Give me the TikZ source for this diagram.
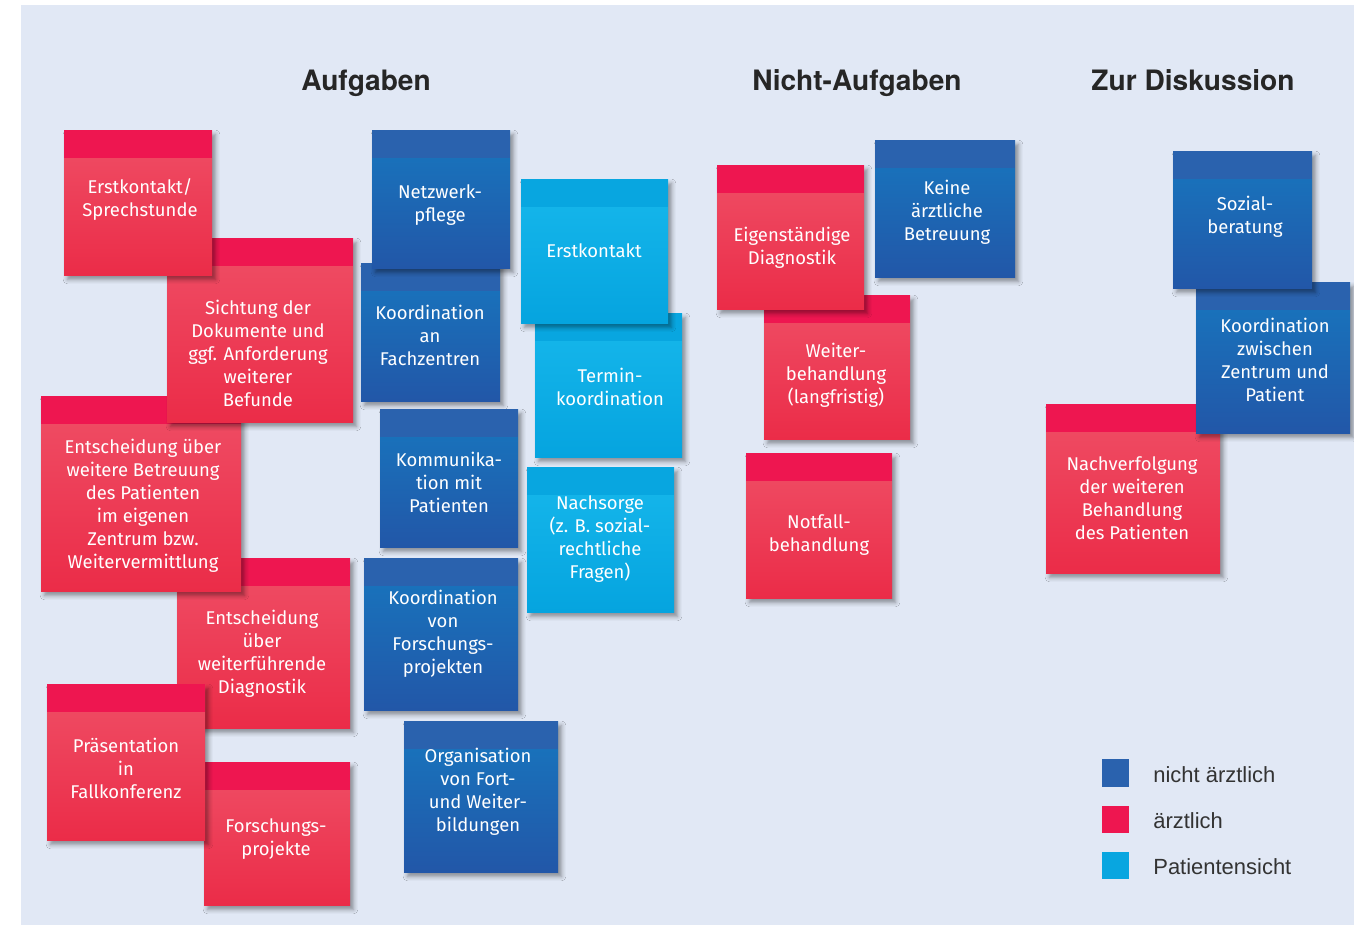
\documentclass[tikz,border=0pt]{standalone}
\usepackage{fontspec}
\usetikzlibrary{fit,shadows.blur}

\newfontfamily\notefont{Fira Sans}
\newfontfamily\headfont{TeX Gyre Heros}
\newfontfamily\legendfont{Liberation Sans}

\definecolor{bgpaper}{HTML}{E1E8F5}
\definecolor{redband}{HTML}{EE1650}
\definecolor{redtop}{HTML}{EF4F66}
\definecolor{redbot}{HTML}{EB2C48}
\definecolor{blueband}{HTML}{2A62AE}
\definecolor{bluetop}{HTML}{1777BF}
\definecolor{bluebot}{HTML}{2257A8}
\definecolor{cyanband}{HTML}{08A6E0}
\definecolor{cyantop}{HTML}{17B8EC}
\definecolor{cyanbot}{HTML}{05A4DF}

\tikzset{
  note/.style={inner sep=0pt, blur shadow={shadow xshift=2pt, shadow yshift=-2.5pt,
      shadow blur radius=2.5pt, shadow opacity=40}},
  rednote/.style={note, top color=redtop, bottom color=redbot,
    path picture={\fill[redband] (path picture bounding box.north west) rectangle
      ([yshift=-0.56cm]path picture bounding box.north east);}},
  bluenote/.style={note, top color=bluetop, bottom color=bluebot,
    path picture={\fill[blueband] (path picture bounding box.north west) rectangle
      ([yshift=-0.56cm]path picture bounding box.north east);}},
  cyannote/.style={note, top color=cyantop, bottom color=cyanbot,
    path picture={\fill[cyanband] (path picture bounding box.north west) rectangle
      ([yshift=-0.56cm]path picture bounding box.north east);}},
  notetext/.style={text=white, align=center, inner sep=0pt,
    font=\notefont\fontsize{10.5}{13.1}\selectfont},
  headline/.style={anchor=base, text=black!85, font=\headfont\bfseries\fontsize{16}{19}\selectfont},
  legbox/.style={inner sep=0pt},
  legtext/.style={anchor=base west, inner sep=0pt, text=black!80, font=\legendfont\fontsize{12.5}{15}\selectfont},
}

% style, name, corner, corner, text position, text
\newcommand\postit[6]{%
  \node[#1, fit={(#3) (#4)}] (#2) {};
  \node[notetext] (#2-txt) at (#5) {#6};
}

\begin{document}
\begin{tikzpicture}[x=0.02cm,y=-0.02cm]

	\useasboundingbox (0,0) rectangle (1354,924);
	\fill[bgpaper] (21,5) rectangle (1365,935);

	\node[headline] (aufgaben) at (366,90) {Aufgaben};
	\node[headline] (nichtaufgaben) at (857,90) {Nicht-Aufgaben};
	\node[headline] (diskussion) at (1193,90) {Zur Diskussion};

	% Aufgaben, aerztlich
	\postit{rednote}{forschung}{204,762}{350,905}{276,839}{Forschungs-\\projekte}
	\postit{rednote}{diagnostik}{177,558}{350,728}{262,654}{Entscheidung\\über\\weiterführende\\Diagnostik}
	\postit{rednote}{praesentation}{47,684}{205,840}{126,768}{Präsentation\\in\\Fallkonferenz}
	\postit{rednote}{betreuung}{41,396}{241,591}{143,506}{Entscheidung über\\weitere Betreuung\\des Patienten\\im eigenen\\Zentrum bzw.\\Weitervermittlung}
	\postit{rednote}{sichtung}{167,238}{353,422}{258,353}{Sichtung der\\Dokumente und\\ggf. Anforderung\\weiterer\\Befunde}
	\postit{rednote}{sprechstunde}{64,130}{212,275}{140,200}{Erstkontakt/\\Sprechstunde}

	% Aufgaben, nicht aerztlich
	\postit{bluenote}{fachzentren}{361,263}{500,401}{430,335}{Koordination\\an\\Fachzentren}
	\postit{bluenote}{netzwerk}{372,130}{510,268}{440,205}{Netzwerk-\\pflege}
	\postit{bluenote}{kommunikation}{380,409}{518,547}{449,482}{Kommunika-\\tion mit\\Patienten}
	\postit{bluenote}{forschkoord}{364,558}{518,710}{443,634}{Koordination\\von\\Forschungs-\\projekten}
	\postit{bluenote}{fortbildung}{404,721}{558,872}{478,792}{Organisation\\von Fort-\\und Weiter-\\bildungen}

	% Aufgaben, Patientensicht
	\postit{cyannote}{termin}{535,313}{682,457}{610,387}{Termin-\\koordination}
	\postit{cyannote}{erstkontakt}{521,179}{668,323}{594,251}{Erstkontakt}
	\postit{cyannote}{nachsorge}{527,467}{674,612}{600,539}{Nachsorge\\(z. B. sozial-\\rechtliche\\Fragen)}

	% Nicht-Aufgaben
	\postit{rednote}{weiterbeh}{764,295}{910,439}{836,375}{Weiter-\\behandlung\\(langfristig)}
	\postit{rednote}{eigendiag}{717,165}{864,309}{792,248}{Eigenständige\\Diagnostik}
	\postit{rednote}{notfall}{746,453}{892,598}{819,535}{Notfall-\\behandlung}
	\postit{bluenote}{keine}{875,140}{1015,277}{947,212}{Keine\\ärztliche\\Betreuung}

	% Zur Diskussion
	\postit{rednote}{nachverfolgung}{1046,404}{1220,573}{1132,498}{Nachverfolgung\\der weiteren\\Behandlung\\des Patienten}
	\postit{bluenote}{zentrum}{1196,282}{1350,433}{1275,360}{Koordination\\zwischen\\Zentrum und\\Patient}
	\postit{bluenote}{sozial}{1173,151}{1312,288}{1245,217}{Sozial-\\beratung}

	% Legende
	\node[legbox, fill=blueband, fit={(1102,759) (1129,787)}] (legblue) {};
	\node[legbox, fill=redband, fit={(1102,806) (1129,833)}] (legred) {};
	\node[legbox, fill=cyanband, fit={(1102,852) (1129,879)}] (legcyan) {};
	\node[legtext] (legbluetxt) at (1153,782) {nicht ärztlich};
	\node[legtext] (legredtxt) at (1153,828) {ärztlich};
	\node[legtext] (legcyantxt) at (1153,874) {Patientensicht};

\end{tikzpicture}
\end{document}
